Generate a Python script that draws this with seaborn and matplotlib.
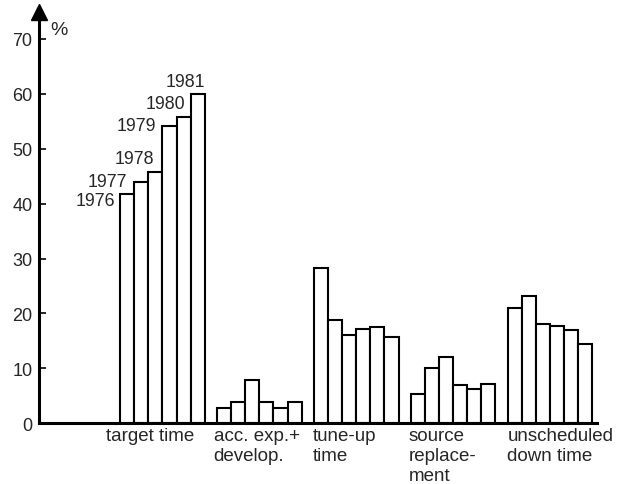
import numpy as np
import pandas as pd
import matplotlib
matplotlib.use("Agg")
import matplotlib.pyplot as plt
import seaborn as sns
from matplotlib.transforms import blended_transform_factory

# values (percent per year)
years = ["1976", "1977", "1978", "1979", "1980", "1981"]
categories = ["target time", "acc. exp.+\ndevelop.", "tune-up\ntime",
              "source\nreplace-\nment", "unscheduled\ndown time"]
target_time = [41.8, 44.0, 45.8, 54.2, 55.8, 59.9]
acc_exp = [2.8, 3.9, 7.8, 3.9, 2.8, 3.9]
tune_up = [28.3, 18.9, 16.0, 17.1, 17.5, 15.8]
source_repl = [5.4, 10.0, 12.1, 6.9, 6.3, 7.1]
unscheduled = [21.0, 23.1, 18.0, 17.7, 17.0, 14.4]
yticks = [0, 10, 20, 30, 40, 50, 60, 70]

series = [target_time, acc_exp, tune_up, source_repl, unscheduled]
rows = []
for cat, vals in zip(categories, series):
    for yr, v in zip(years, vals):
        rows.append({"category": cat, "year": yr, "value": v})
df = pd.DataFrame(rows)

sns.set_style("white")
plt.rcParams["font.family"] = ["Liberation Sans", "DejaVu Sans"]
FS_CAT = 13.5
FS_TICK = 13
FS_YEAR = 12.8

fig = plt.figure(figsize=(6.21, 4.85), dpi=100)
ax = fig.add_axes([0.0633, 0.1252, 0.898, 0.849])

sns.barplot(data=df, x="category", y="value", hue="year", order=categories,
            hue_order=years, palette=["white"] * len(years), edgecolor="black",
            linewidth=1.5, width=0.875, legend=False, ax=ax)

ax.set_xlim(-1.27, 4.485)
ax.set_ylim(0, 75)
ax.set_xlabel("")
ax.set_ylabel("")
ax.set_xticks([])
ax.set_yticks(yticks)
ax.set_yticklabels([str(t) for t in yticks], fontsize=FS_TICK)
ax.tick_params(axis="y", direction="in", length=5, width=1.4, pad=5, left=True)

sns.despine(ax=ax)
for side in ["left", "bottom"]:
    ax.spines[side].set_linewidth(2.2)
    ax.spines[side].set_color("black")

# arrow head on the y axis
ax.plot([0], [1], marker="^", markersize=11, color="black",
        transform=ax.transAxes, clip_on=False)
ax.text(0.02, 0.977, "%", transform=ax.transAxes, fontsize=FS_CAT + 0.5,
        ha="left", va="top")

# category labels under each group, left aligned
trans = blended_transform_factory(ax.transData, ax.transAxes)
label_shift = [-0.58, -0.47, -0.45, -0.46, -0.44]
for i, (cat, dx) in enumerate(zip(categories, label_shift)):
    ax.text(i + dx, -0.01, cat, transform=trans, ha="left", va="top",
            fontsize=FS_CAT, linespacing=1.2)

# year labels next to the target time bars
year_offsets = [(-5, 2, "right", "top"), (-7, 0, "right", "center"),
                (6, 5, "right", "bottom"), (-6, 0, "right", "center"),
                (9, 5, "right", "bottom"), (14, 4, "right", "bottom")]
for i, (yr, (ox, oy, ha, va)) in enumerate(zip(years, year_offsets)):
    bar = ax.containers[i][0]
    ax.annotate(yr, (bar.get_x(), bar.get_height()), xytext=(ox, oy),
                textcoords="offset pixels", ha=ha, va=va, fontsize=FS_YEAR)

fig.savefig("out.png", dpi=100)
